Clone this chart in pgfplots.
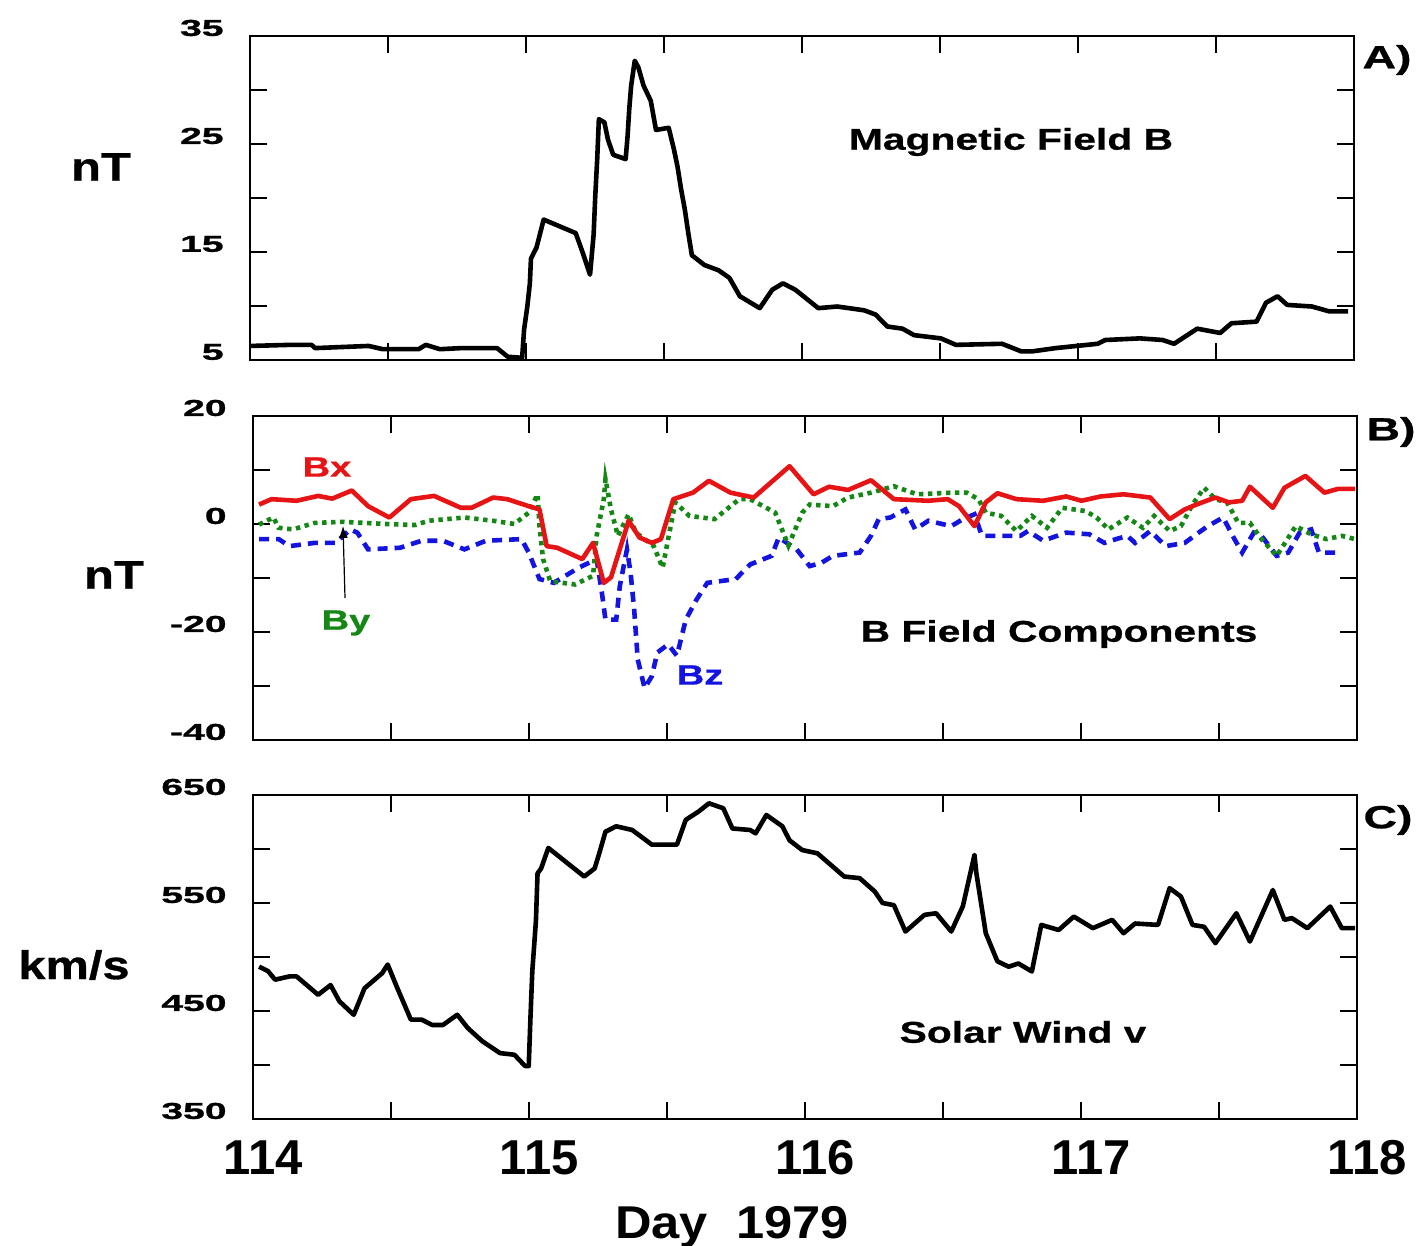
\documentclass[border=0pt]{standalone}
\usepackage{fontspec}
\setmainfont{Liberation Sans}
\newfontfamily\tickfont[FakeStretch=1.7,FakeBold=1.2]{Liberation Sans}
\newfontfamily\txtfont[FakeStretch=1.36,FakeBold=0.8]{Liberation Sans}
\newfontfamily\labfont[FakeStretch=1.22,FakeBold=0.8]{Liberation Sans}
\newfontfamily\panfont[FakeStretch=1.45,FakeBold=0.8]{Liberation Sans}
\newfontfamily\dayfont[FakeStretch=1.1]{Liberation Sans}
\usepackage{pgfplots}
\pgfplotsset{compat=1.18}
\usetikzlibrary{arrows.meta}
\definecolor{bxred}{RGB}{230,20,20}
\definecolor{bygreen}{RGB}{20,135,20}
\definecolor{bzblue}{RGB}{20,20,225}
\pgfplotsset{panel/.style={
  scale only axis, width=552pt, height=162pt,
  xmin=114, xmax=118,
  xtick={114,114.5,115,115.5,116,116.5,117,117.5,118},
  xticklabels={},
  tick align=inside, major tick length=8.5pt,
  axis line style={line width=1.2pt},
  every tick/.style={black, line width=1pt},
  yticklabel style={font=\tickfont\bfseries\fontsize{11.5}{11.5}\selectfont, anchor=east, inner sep=0pt, xshift=-13pt, yshift=4pt},
  /pgf/number format/assume math mode=true,
  anchor=south west,
}}
\begin{document}
\begin{tikzpicture}
\useasboundingbox (0,0) rectangle (709.5pt,623pt);
% Panel A
\begin{axis}[panel, at={(125pt,443pt)}, ymin=5, ymax=35,
  ytick={5,10,15,20,25,30,35}, yticklabels={5,,15,,25,,35}]
\addplot[black, line width=2.3pt, line join=round] coordinates {
(114.003,6.3) (114.145,6.4) (114.223,6.4) (114.236,6.1) (114.430,6.3) (114.481,6.0)
(114.611,6.0) (114.637,6.4) (114.688,6.0) (114.766,6.1) (114.895,6.1) (114.934,5.3)
(114.986,5.2) (114.993,7.8) (115.005,10.0) (115.014,12.1) (115.018,14.4) (115.038,15.4)
(115.064,18.0) (115.180,16.75) (115.206,14.9) (115.232,12.9) (115.245,16.6) (115.251,20.2)
(115.258,23.6) (115.264,27.3) (115.284,27.0) (115.297,25.4) (115.316,24.0) (115.361,23.6)
(115.368,25.7) (115.374,28.2) (115.381,30.4) (115.394,32.7) (115.407,32.1) (115.426,30.4)
(115.452,29.0) (115.471,26.3) (115.517,26.5) (115.536,24.5) (115.549,22.9) (115.562,20.8)
(115.575,19.0) (115.588,16.75) (115.601,14.7) (115.646,13.8) (115.698,13.3) (115.737,12.6)
(115.775,10.9) (115.847,9.8) (115.892,11.5) (115.931,12.1) (115.976,11.5) (116.059,9.8)
(116.128,9.95) (116.225,9.6) (116.267,9.2) (116.309,8.1) (116.364,7.9) (116.406,7.3)
(116.503,7.0) (116.558,6.4) (116.725,6.5) (116.794,5.8) (116.835,5.8) (116.919,6.1)
(117.071,6.5) (117.099,6.85) (117.224,7.0) (117.307,6.85) (117.348,6.5) (117.432,7.9)
(117.515,7.5) (117.556,8.4) (117.647,8.55) (117.681,10.3) (117.723,10.9) (117.758,10.1)
(117.848,9.95) (117.910,9.5) (117.979,9.5)
};
\end{axis}
% Panel B
\begin{axis}[panel, at={(126.5pt,253pt)}, ymin=-40, ymax=20,
  ytick={-40,-30,-20,-10,0,10,20}, yticklabels={-40,,-20,,0,,20}]
\addplot[bzblue, line width=2.3pt, dash pattern=on 5pt off 3.5pt] coordinates {
(114.022,-2.8) (114.093,-2.8) (114.132,-4.1) (114.223,-3.5) (114.300,-3.5) (114.352,-1.0)
(114.378,-1.6) (114.417,-4.7) (114.533,-4.4) (114.611,-3.1) (114.688,-3.1) (114.766,-4.7)
(114.844,-3.1) (114.973,-2.8) (114.999,-5.3) (115.038,-10.2) (115.090,-10.9) (115.180,-8.1)
(115.245,-6.5) (115.264,-12.7) (115.277,-17.7) (115.316,-17.7) (115.329,-11.5) (115.355,-4.7)
(115.368,-9.0) (115.381,-15.8) (115.394,-25.1) (115.419,-30.4) (115.445,-28.2) (115.465,-23.8)
(115.504,-22.3) (115.536,-24.4) (115.568,-17.7) (115.607,-14.0) (115.646,-10.9) (115.749,-10.2)
(115.801,-7.5) (115.879,-5.9) (115.905,-2.5) (115.970,-4.7) (116.017,-7.8) (116.059,-7.2)
(116.101,-5.9) (116.198,-5.3) (116.239,-2.2) (116.267,0.9) (116.309,1.2) (116.364,2.7)
(116.399,-1.0) (116.447,0.6) (116.530,-0.4) (116.572,0.9) (116.614,1.8) (116.641,-2.2)
(116.780,-2.2) (116.808,-1.3) (116.863,-3.1) (116.946,-1.6) (117.030,-1.9) (117.085,-3.5)
(117.127,-2.8) (117.168,-2.2) (117.196,-3.5) (117.251,-1.3) (117.307,-4.1) (117.376,-3.5)
(117.418,-1.9) (117.459,-0.4) (117.515,1.2) (117.556,-2.8) (117.584,-5.3) (117.626,-1.6)
(117.654,-2.2) (117.709,-5.9) (117.751,-5.3) (117.792,-1.6) (117.834,-1.0) (117.862,-5.3)
(117.945,-5.3)
};
\addplot[bygreen, line width=2.3pt, dash pattern=on 2.2pt off 2.3pt] coordinates {
(114.022,-0.1) (114.074,1.2) (114.093,-0.7) (114.145,-1.0) (114.223,0.2) (114.326,0.4)
(114.481,0.0) (114.585,-0.2) (114.637,0.6) (114.766,1.2) (114.870,0.6) (114.947,0.0)
(114.999,2.1) (115.031,5.5) (115.038,-0.4) (115.051,-6.5) (115.077,-10.6) (115.167,-11.2)
(115.232,-9.6) (115.245,-2.2) (115.271,4.6) (115.277,8.3) (115.297,2.7) (115.322,-2.2)
(115.361,1.8) (115.387,-1.6) (115.452,-4.1) (115.484,-8.1) (115.530,4.0) (115.581,1.5)
(115.672,0.9) (115.762,4.6) (115.801,4.6) (115.892,2.1) (115.940,-4.0) (115.990,2.1)
(116.017,3.6) (116.101,3.3) (116.156,4.9) (116.239,5.8) (116.322,7.0) (116.406,5.5)
(116.530,5.8) (116.586,5.8) (116.628,4.6) (116.655,2.1) (116.711,1.5) (116.766,-1.3)
(116.822,1.5) (116.877,-0.7) (116.932,3.0) (117.016,2.4) (117.057,1.2) (117.099,-1.0)
(117.168,1.2) (117.224,-0.7) (117.265,1.5) (117.321,-1.3) (117.362,-0.4) (117.404,3.6)
(117.446,6.7) (117.487,4.6) (117.529,4.0) (117.570,0.2) (117.612,0.2) (117.654,-2.8)
(117.709,-5.9) (117.778,-0.4) (117.834,-1.9) (117.889,-2.8) (117.945,-2.2) (117.993,-2.8)
};
\addplot[bxred, line width=2.3pt, line join=round] coordinates {
(114.022,3.6) (114.067,4.6) (114.158,4.3) (114.236,5.2) (114.287,4.7) (114.358,6.2)
(114.417,3.3) (114.494,1.2) (114.572,4.6) (114.656,5.2) (114.753,3.0) (114.792,3.0)
(114.870,4.9) (114.921,4.6) (114.999,3.3) (115.038,2.7) (115.064,-4.1) (115.102,-4.4)
(115.193,-6.5) (115.232,-3.5) (115.271,-10.9) (115.297,-9.9) (115.361,0.6) (115.400,-2.5)
(115.445,-3.5) (115.478,-2.8) (115.523,4.6) (115.594,5.8) (115.652,8.0) (115.730,5.8)
(115.814,4.9) (115.944,10.7) (116.031,5.5) (116.087,6.9) (116.156,6.3) (116.239,8.1)
(116.322,4.6) (116.447,4.3) (116.517,4.6) (116.558,3.3) (116.614,-0.4) (116.655,4.0)
(116.697,5.7) (116.766,4.6) (116.863,4.3) (116.946,5.1) (117.002,4.3) (117.071,5.1)
(117.154,5.5) (117.251,4.9) (117.321,0.9) (117.376,2.7) (117.418,3.6) (117.487,4.9)
(117.536,4.0) (117.584,4.3) (117.612,6.9) (117.695,3.0) (117.737,6.7) (117.813,8.9)
(117.882,5.8) (117.931,6.5) (117.993,6.5)
};
\end{axis}
% Panel C
\begin{axis}[panel, at={(126.5pt,63.5pt)}, ymin=350, ymax=650,
  ytick={350,400,450,500,550,600,650}, yticklabels={350,,450,,550,,650},
  xticklabels={114,,115,,116,,117,,118},
  xticklabel style={font=\bfseries\fontsize{24.5}{24.5}\selectfont, anchor=north, inner sep=0pt, yshift=-10.5pt, xshift=5pt}]
\addplot[black, line width=2.3pt, line join=round] coordinates {
(114.022,491) (114.054,487) (114.080,479) (114.132,482) (114.158,482) (114.236,465)
(114.281,474) (114.313,459) (114.365,446.5) (114.404,471) (114.468,485) (114.488,493)
(114.520,473) (114.572,442) (114.611,442) (114.650,437) (114.688,437) (114.740,446.5)
(114.779,434) (114.831,422) (114.895,411) (114.947,409.5) (114.986,399) (114.999,399)
(115.005,442) (115.012,487) (115.025,533) (115.031,577.5) (115.044,582) (115.070,601)
(115.200,574.5) (115.238,582) (115.258,599) (115.277,616) (115.316,621) (115.374,617.6)
(115.445,604) (115.536,604) (115.568,627) (115.614,634.6) (115.652,642.3) (115.704,637.7)
(115.737,619) (115.801,617.6) (115.821,614.5) (115.860,631.5) (115.918,621) (115.944,608)
(115.990,599) (116.045,596) (116.142,574.5) (116.198,573) (116.253,560.6) (116.281,550)
(116.322,548) (116.364,523.6) (116.433,539) (116.475,540.5) (116.530,523.6) (116.572,547)
(116.614,594.5) (116.621,577.5) (116.655,522) (116.697,496) (116.738,491) (116.773,494)
(116.822,486.6) (116.856,529.7) (116.919,525) (116.974,537.4) (117.043,526.7) (117.113,534.4)
(117.154,522) (117.196,531) (117.279,529.7) (117.321,563.7) (117.362,556) (117.404,529.7)
(117.446,528) (117.487,512.8) (117.563,540.5) (117.612,514.3) (117.695,562) (117.737,534.4)
(117.764,536) (117.820,526.7) (117.903,546.7) (117.945,526.7) (117.993,526.7)
};
\end{axis}
% labels
\node[font=\labfont\bfseries\fontsize{20}{20}\selectfont] at (50.5pt,539.5pt) {nT};
\node[font=\labfont\bfseries\fontsize{20}{20}\selectfont] at (57pt,335.5pt) {nT};
\node[font=\labfont\bfseries\fontsize{20}{20}\selectfont] at (37pt,140.5pt) {km/s};
\node[font=\panfont\bfseries\fontsize{16}{16}\selectfont] at (693.5pt,593pt) {A)};
\node[font=\panfont\bfseries\fontsize{16}{16}\selectfont] at (695.5pt,407pt) {B)};
\node[font=\panfont\bfseries\fontsize{16}{16}\selectfont] at (694pt,213pt) {C)};
\node[font=\txtfont\bfseries\fontsize{15}{15}\selectfont] at (505.5pt,552pt) {Magnetic Field B};
\node[font=\txtfont\bfseries\fontsize{15}{15}\selectfont] at (529.5pt,306pt) {B Field Components};
\node[font=\txtfont\bfseries\fontsize{15}{15}\selectfont] at (511.5pt,107pt) {Solar Wind v};
\node[font=\txtfont\bfseries\fontsize{14}{14}\selectfont, text=bxred] at (163.5pt,389.5pt) {Bx};
\node[font=\txtfont\bfseries\fontsize{14}{14}\selectfont, text=bygreen] at (173pt,311.5pt) {By};
\node[font=\txtfont\bfseries\fontsize{14}{14}\selectfont, text=bzblue] at (350pt,285.5pt) {Bz};
\draw[black, line width=0.6pt, -{Latex[length=6pt,width=4.5pt]}] (172.5pt,324pt) -- (171.5pt,360pt);
\node[font=\dayfont\bfseries\fontsize{23}{23}\selectfont] at (366pt,9.5pt) {Day~~1979};
\end{tikzpicture}
\end{document}
